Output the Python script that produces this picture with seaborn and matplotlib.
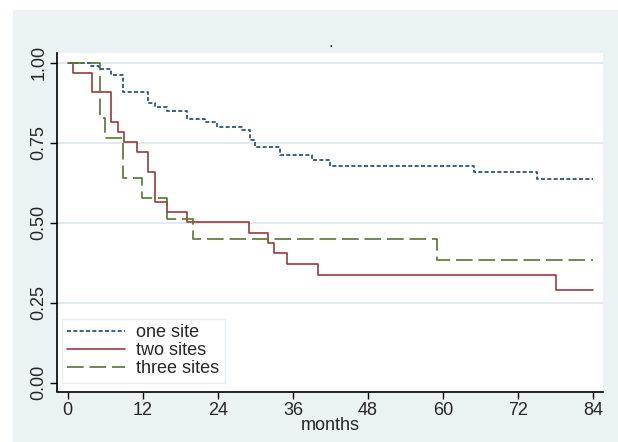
import pandas as pd
import numpy as np
import matplotlib
matplotlib.use("Agg")
import matplotlib.pyplot as plt
from matplotlib.patches import Rectangle
import seaborn as sns

# Kaplan-Meier estimates (months, survival)
one_months = [0, 3.8, 5.0, 7.0, 8.9, 12.9, 14.0, 15.8, 19.0, 22.0, 23.8, 27.8,
              29.1, 30.0, 33.9, 39.0, 41.9, 64.9, 75.0, 84]
one_surv = [1.0, 0.99, 0.98, 0.96, 0.907, 0.873, 0.86, 0.849, 0.824, 0.816, 0.80, 0.79,
            0.758, 0.736, 0.711, 0.696, 0.678, 0.659, 0.636, 0.636]

two_months = [0, 0.9, 3.9, 7.0, 8.0, 9.0, 11.0, 12.9, 14.0, 15.9, 19.0, 29.0,
              32.0, 32.9, 35.0, 40.0, 78.0, 84]
two_surv = [1.0, 0.969, 0.907, 0.816, 0.784, 0.753, 0.722, 0.657, 0.566, 0.534, 0.503, 0.469,
            0.436, 0.404, 0.370, 0.337, 0.290, 0.290]

three_months = [0, 5.1, 5.9, 8.9, 11.9, 15.9, 20.0, 59.0, 84]
three_surv = [1.0, 0.826, 0.766, 0.641, 0.576, 0.511, 0.448, 0.383, 0.383]

groups = ["one site", "two sites", "three sites"]
x_ticks = [0, 12, 24, 36, 48, 60, 72, 84]
y_ticks = [0.0, 0.25, 0.50, 0.75, 1.0]
y_labels = ["0.00", "0.25", "0.50", "0.75", "1.00"]

df = pd.concat([
    pd.DataFrame({"months": one_months, "surv": one_surv, "group": groups[0]}),
    pd.DataFrame({"months": two_months, "surv": two_surv, "group": groups[1]}),
    pd.DataFrame({"months": three_months, "surv": three_surv, "group": groups[2]}),
], ignore_index=True)

sns.set_style("white")
plt.rcParams["font.family"] = ["Liberation Sans", "DejaVu Sans"]

BG = "#eaf2f4"
GRID = "#e1eaef"
palette = {"one site": "#1a476f", "two sites": "#9c383e", "three sites": "#55752f"}
dashes = {"one site": (2.4, 1.4), "two sites": "", "three sites": (10, 3.5)}
FS = 13

fig = plt.figure(figsize=(6.18, 4.42), dpi=100)
fig.patch.set_facecolor("white")
# fond bleuté de la zone graphique (style Stata)
fig.patches.append(Rectangle((13 / 618, 0), 1, 1 - 10 / 442, transform=fig.transFigure,
                             facecolor=BG, edgecolor="none", zorder=-10))

ax = fig.add_axes([57.3 / 618, 1 - 391.5 / 442, (603.3 - 57.3) / 618, (391.5 - 52.7) / 442])
ax.set_facecolor("white")

for yv in [0.25, 0.50, 0.75, 1.0]:
    ax.axhline(yv, color=GRID, lw=1.4, zorder=0)

sns.lineplot(data=df, x="months", y="surv", hue="group", style="group",
             hue_order=groups, style_order=groups, palette=palette, dashes=dashes,
             estimator=None, sort=False, drawstyle="steps-post", linewidth=1.2, ax=ax)

leg = ax.get_legend()
handles = leg.legend_handles
labels = [t.get_text() for t in leg.get_texts()]
leg.remove()
new_leg = ax.legend(handles, labels, loc="lower left", bbox_to_anchor=(0.008, 0.025),
                    borderaxespad=0, fontsize=FS, handlelength=3.2, handletextpad=0.6,
                    labelspacing=0.05, frameon=True, fancybox=False, borderpad=0.32)
new_leg.get_frame().set_edgecolor("#e1eaef")
new_leg.get_frame().set_linewidth(1.0)

ax.set_xlim(-1.66, 85.6)
ax.set_ylim(-0.0275, 1.031)
ax.set_xticks(x_ticks)
ax.set_xticklabels([str(v) for v in x_ticks])
ax.set_yticks(y_ticks)
ax.set_yticklabels(y_labels, rotation=90, va="center")
ax.tick_params(axis="both", direction="out", length=4.8, width=1, color="black",
               labelsize=FS, pad=2.5, left=True, bottom=True)
ax.set_xlabel("months", fontsize=FS, labelpad=-1.5)
ax.set_ylabel("")

for side in ["top", "right"]:
    ax.spines[side].set_visible(False)
for side in ["left", "bottom"]:
    ax.spines[side].set_color("black")
    ax.spines[side].set_linewidth(1.2)

# petit point en guise de titre
ax.text(0.5, 1.018, ".", transform=ax.transAxes, ha="center", va="baseline",
        fontsize=12, color="#1a2a4a")

fig.savefig("out.png", dpi=100, facecolor=fig.get_facecolor())
